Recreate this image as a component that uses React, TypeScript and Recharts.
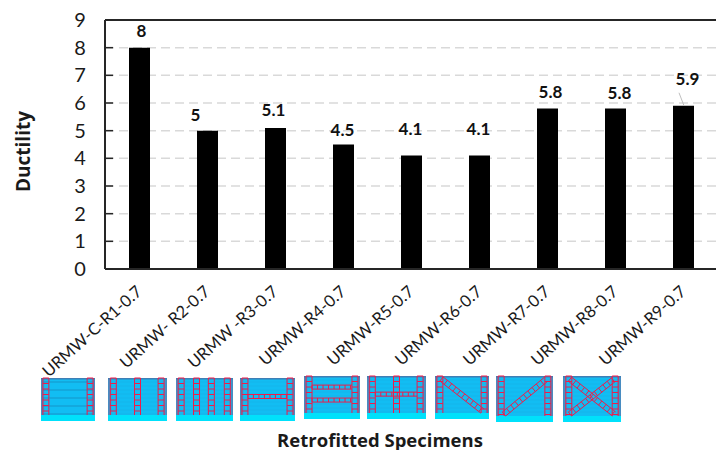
// Ductility of retrofitted masonry walls: black columns, with wall sketches under the axis.
import { BarChart, Bar, CartesianGrid, LabelList, ReferenceLine, XAxis, YAxis } from "recharts";

const specimens = [
  "URMW-C-R1-0.7",
  "URMW- R2-0.7",
  "URMW -R3-0.7",
  "URMW-R4-0.7",
  "URMW-R5-0.7",
  "URMW-R6-0.7",
  "URMW-R7-0.7",
  "URMW-R8-0.7",
  "URMW-R9-0.7",
];
const ductility = [8, 5, 5.1, 4.5, 4.1, 4.1, 5.8, 5.8, 5.9];
const yTicks = [0, 1, 2, 3, 4, 5, 6, 7, 8, 9];

// hand-placed data labels, same as the original figure [dx, gap above bar]
const labelNudge = [
  [2, 17], [-12, 16], [-2, 18], [-1, 14], [-1, 27], [-1, 27], [3, 16], [4, 15], [4, 27],
];

const FONT = "Lato, 'Open Sans', sans-serif";
const TITLE_FONT = "'Open Sans', sans-serif";
const data = specimens.map((name, i) => ({ name, ductility: ductility[i] }));

// wall sketches: x, y, w, h of the wall plus its steel strips (fractions of the wall)
const walls = [
  { x: 41, y: 378, w: 54, h: 43, cols: [0.09, 0.91], rows: [], diags: [], courses: true },
  { x: 108, y: 378, w: 59, h: 43, cols: [0.09, 0.5, 0.9], rows: [], diags: [] },
  { x: 176, y: 378, w: 57, h: 43, cols: [0.09, 0.36, 0.62, 0.9], rows: [], diags: [] },
  { x: 240, y: 378, w: 55, h: 43, cols: [0.09, 0.91], rows: [0.5], diags: [] },
  { x: 304, y: 376, w: 56, h: 43, cols: [0.09, 0.91], rows: [0.3, 0.65], diags: [] },
  { x: 367, y: 376, w: 59, h: 43, cols: [0.09, 0.5, 0.9], rows: [0.49], diags: [] },
  { x: 435, y: 376, w: 54, h: 43, cols: [0.09, 0.91], rows: [], diags: [[0.12, 0.08, 0.88, 0.95]] },
  { x: 496, y: 376, w: 57, h: 46, cols: [0.09, 0.91], rows: [], diags: [[0.14, 0.95, 0.88, 0.08]] },
  { x: 563, y: 376, w: 58, h: 46, cols: [0.1, 0.9], rows: [], diags: [[0.12, 0.08, 0.88, 0.95], [0.12, 0.95, 0.88, 0.08]] },
];

function Ladder({ x1, y1, x2, y2, half = 3 }: { x1: number; y1: number; x2: number; y2: number; half?: number }) {
  const len = Math.hypot(x2 - x1, y2 - y1);
  const ux = (x2 - x1) / len;
  const uy = (y2 - y1) / len;
  const nx = -uy * half;
  const ny = ux * half;
  const rungs = [];
  for (let d = 0; d <= len; d += 5.5) {
    const px = x1 + ux * d;
    const py = y1 + uy * d;
    rungs.push(<line key={d} x1={px - nx} y1={py - ny} x2={px + nx} y2={py + ny} />);
  }
  return (
    <g stroke="#ee1c4a" strokeWidth={1} fill="none">
      <line x1={x1 - nx} y1={y1 - ny} x2={x2 - nx} y2={y2 - ny} />
      <line x1={x1 + nx} y1={y1 + ny} x2={x2 + nx} y2={y2 + ny} />
      {rungs}
    </g>
  );
}

function Wall({ wall, id }: { wall: (typeof walls)[number]; id: number }) {
  const { x, y, w, h, cols, rows, diags, courses } = wall;
  const bodyH = h - 6;
  const left = x + cols[0] * w;
  const right = x + cols[cols.length - 1] * w;
  const grid = [];
  for (let gy = y + 4; gy < y + bodyH; gy += courses ? 8 : 4) {
    grid.push(<line key={gy} x1={x + 2} x2={x + w - 2} y1={gy} y2={gy} stroke={courses ? "#1b6f9c" : "#19aee0"} strokeWidth={0.5} />);
  }
  return (
    <g>
      <rect x={x} y={y} width={w} height={bodyH} fill={`url(#wallFill)`} />
      <rect x={x} y={y} width={w} height={1.5} fill="#3f7fb5" />
      {grid}
      <rect x={x} y={y + bodyH} width={w} height={6} fill="#00e1fb" />
      {cols.map((c, i) => (
        <Ladder key={`c${id}-${i}`} x1={x + c * w} y1={y} x2={x + c * w} y2={y + bodyH} />
      ))}
      {rows.map((r, i) => (
        <Ladder key={`r${id}-${i}`} x1={left + 3} y1={y + r * bodyH} x2={right - 3} y2={y + r * bodyH} half={2} />
      ))}
      {diags.map((d, i) => (
        <Ladder key={`d${id}-${i}`} x1={x + d[0] * w} y1={y + d[1] * bodyH} x2={x + d[2] * w} y2={y + d[3] * bodyH} half={2.6} />
      ))}
    </g>
  );
}

function YTick({ x, y, payload }: any) {
  return (
    <g>
      <line x1={105} x2={113} y1={y} y2={y} stroke="#262626" strokeWidth={1.5} />
      <text x={x - 17} y={y} dy="0.35em" textAnchor="middle" fontFamily={FONT} fontSize={20} fill="#1a1a1a">
        {payload.value}
      </text>
    </g>
  );
}

function XTick({ x, y, payload }: any) {
  return (
    <text
      x={x + 4}
      y={y + 16}
      textAnchor="end"
      transform={`rotate(-42 ${x + 4} ${y + 16})`}
      fontFamily={FONT}
      fontSize={16.5}
      fill="#1a1a1a"
    >
      {payload.value}
    </text>
  );
}

function ValueLabel({ x, y, width, value, index }: any) {
  const [dx, gap] = labelNudge[index];
  const cx = x + width / 2 + dx;
  return (
    <g>
      <text x={cx} y={y - gap} dy="0.35em" textAnchor="middle" fontFamily={FONT} fontWeight={700} fontSize={17} fill="#111">
        {value}
      </text>
      {index === 8 && <line x1={x + 6} y1={y - 13} x2={x + 11} y2={y} stroke="#bfbfbf" strokeWidth={1} />}
    </g>
  );
}

export default function App() {
  return (
    <div style={{ position: "absolute", left: 0, top: 0, width: 716, height: 450, overflow: "hidden", background: "#fff" }}>
      <BarChart width={717} height={450} data={data} margin={{ top: 20, right: 0, left: 0, bottom: 0 }} barCategoryGap={0}>
        <CartesianGrid vertical={false} stroke="#d9d9d9" strokeWidth={1.5} strokeDasharray="9 5" />
        <XAxis
          dataKey="name"
          interval={0}
          height={181}
          tick={<XTick />}
          tickLine={false}
          axisLine={{ stroke: "#262626", strokeWidth: 2 }}
          label={{
            value: "Retrofitted Specimens",
            position: "insideBottom",
            offset: 3,
            dx: -31,
            style: { fontFamily: TITLE_FONT, fontWeight: 700, fontSize: 18.5, fill: "#1a1a1a" },
          }}
        />
        <YAxis
          width={105}
          domain={[0, 9]}
          ticks={yTicks}
          interval={0}
          tick={<YTick />}
          tickLine={false}
          axisLine={{ stroke: "#262626", strokeWidth: 2 }}
          label={{
            value: "Ductility",
            angle: -90,
            position: "insideLeft",
            offset: 23,
            dy: 7,
            style: { fontFamily: TITLE_FONT, fontWeight: 700, fontSize: 19, fill: "#1a1a1a", textAnchor: "middle" },
          }}
        />
        <ReferenceLine y={9} stroke="#262626" strokeWidth={2} />
        <Bar dataKey="ductility" fill="#000" barSize={21} isAnimationActive={false}>
          <LabelList dataKey="ductility" content={<ValueLabel />} />
        </Bar>
      </BarChart>
      <svg width={716} height={450} style={{ position: "absolute", left: 0, top: 0, pointerEvents: "none" }}>
        <defs>
          <linearGradient id="wallFill" x1="0" y1="0" x2="1" y2="0">
            <stop offset="0%" stopColor="#4f86bb" />
            <stop offset="8%" stopColor="#12bdf3" />
            <stop offset="92%" stopColor="#12bdf3" />
            <stop offset="100%" stopColor="#4f86bb" />
          </linearGradient>
        </defs>
        {walls.map((wall, i) => (
          <Wall key={i} wall={wall} id={i} />
        ))}
      </svg>
    </div>
  );
}
